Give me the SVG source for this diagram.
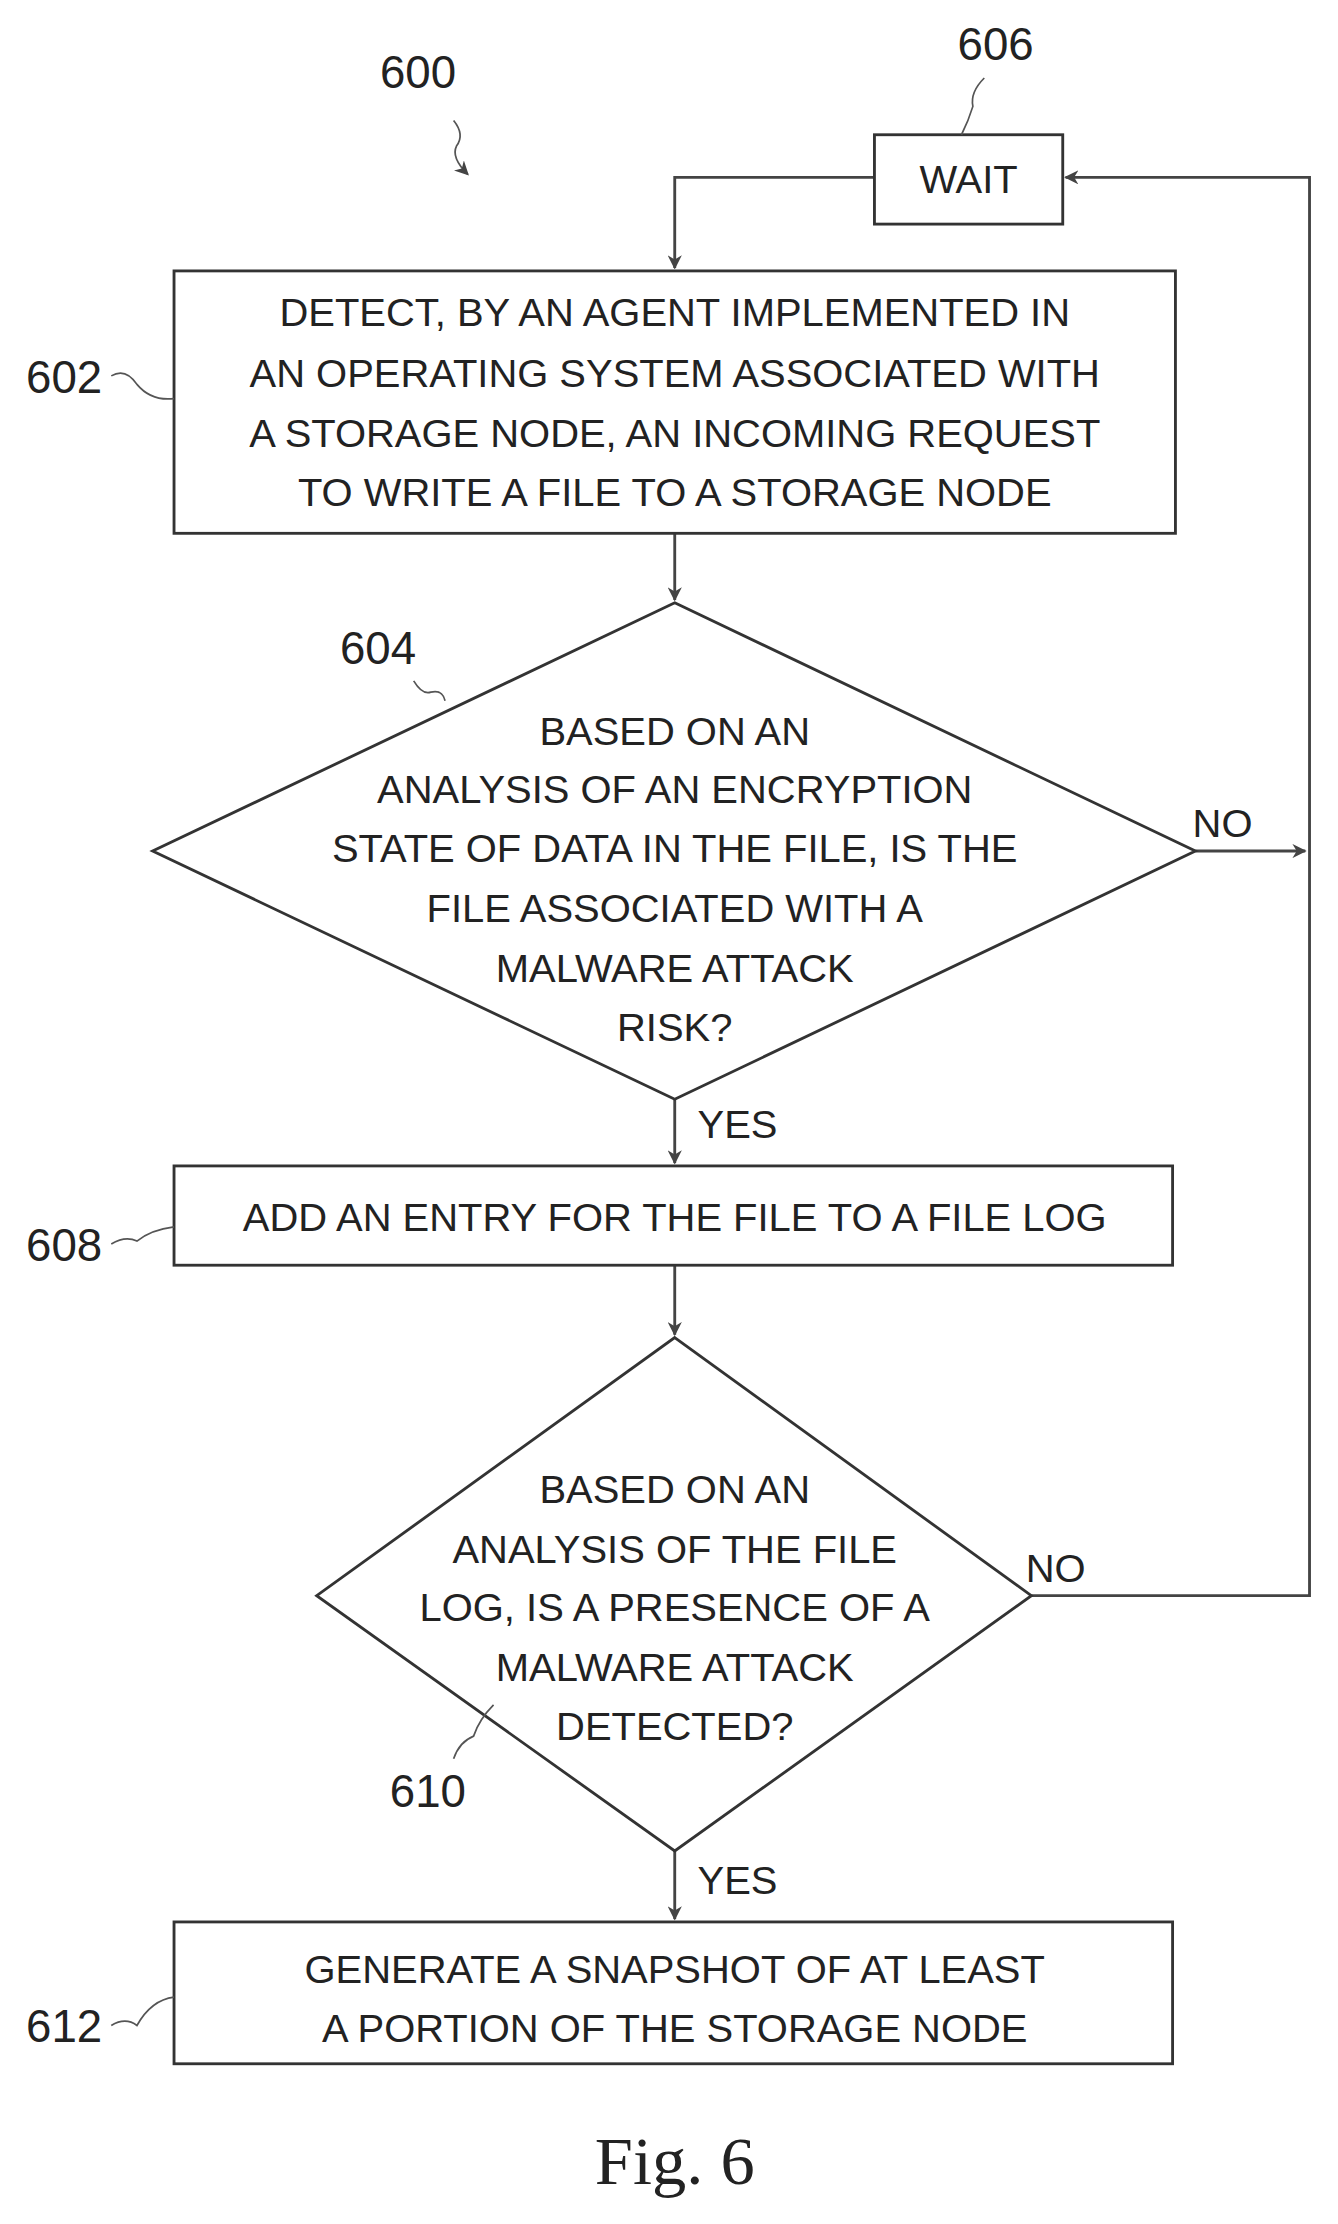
<svg xmlns="http://www.w3.org/2000/svg" width="1338" height="2224" viewBox="0 0 1338 2224">
<style>
.b{fill:#fff;stroke:#333;stroke-width:2}
.t{font-family:"Liberation Sans",Arial,sans-serif;font-size:28px;fill:#222;text-anchor:middle}
.n{font-family:"Liberation Sans",Arial,sans-serif;font-size:32px;fill:#222;text-anchor:middle}
.c{fill:none;stroke:#444;stroke-width:2}
.l{fill:none;stroke:#555;stroke-width:1.2}
</style>
<defs><marker id="a" markerWidth="10" markerHeight="10" refX="9" refY="5" orient="auto" markerUnits="userSpaceOnUse"><path d="M0,0 L10,5 L0,10 L3,5 Z" fill="#444"/></marker></defs>
<rect width="1338" height="2224" fill="#fff"/>
<g transform="scale(1.4265 1.4184)">
<g id="connectors">
<path class="c" d="M613,125 H473 V189" marker-end="url(#a)"/>
<path class="c" d="M473,376 V423" marker-end="url(#a)"/>
<path class="c" d="M838,600 H915" marker-end="url(#a)"/>
<path class="c" d="M723,1125 H918 V125 H747" marker-end="url(#a)"/>
<path class="c" d="M473,775 V820" marker-end="url(#a)"/>
<path class="c" d="M473,892 V941" marker-end="url(#a)"/>
<path class="c" d="M473,1305 V1353" marker-end="url(#a)"/>
<text class="t" x="857" y="590">NO</text>
<text class="t" x="740" y="1115">NO</text>
<text class="t" x="517" y="802">YES</text>
<text class="t" x="517" y="1335">YES</text>
</g>
<g id="n600"><text class="n" x="293" y="62">600</text><path class="l" d="M318,85 q8,10 2,18 q-4,8 8,20" marker-end="url(#a)"/></g>
<g id="n606"><rect class="b" x="613" y="95" width="132" height="63"/><text class="t" x="679" y="136">WAIT</text><text class="n" x="698" y="42">606</text><path class="l" d="M690,55 q-10,10 -8,20 q-3,10 -8,20"/></g>
<g id="n602"><rect class="b" x="122" y="191" width="702" height="185"/>
<text class="t" x="473" y="230">DETECT, BY AN AGENT IMPLEMENTED IN</text>
<text class="t" x="473" y="273">AN OPERATING SYSTEM ASSOCIATED WITH</text>
<text class="t" x="473" y="315">A STORAGE NODE, AN INCOMING REQUEST</text>
<text class="t" x="473" y="357">TO WRITE A FILE TO A STORAGE NODE</text>
<text class="n" x="45" y="277">602</text><path class="l" d="M78,265 q10,-6 18,6 q10,12 26,10"/></g>
<g id="n604"><polygon class="b" points="473,425 838,600 473,775 107,600"/>
<text class="t" x="473" y="525">BASED ON AN</text>
<text class="t" x="473" y="566">ANALYSIS OF AN ENCRYPTION</text>
<text class="t" x="473" y="608">STATE OF DATA IN THE FILE, IS THE</text>
<text class="t" x="473" y="650">FILE ASSOCIATED WITH A</text>
<text class="t" x="473" y="692">MALWARE ATTACK</text>
<text class="t" x="473" y="734">RISK?</text>
<text class="n" x="265" y="468">604</text><path class="l" d="M290,480 q6,10 12,8 q8,-2 10,6"/></g>
<g id="n608"><rect class="b" x="122" y="822" width="700" height="70"/><text class="t" x="473" y="868">ADD AN ENTRY FOR THE FILE TO A FILE LOG</text>
<text class="n" x="45" y="889">608</text><path class="l" d="M78,877 q10,-6 18,-2 q10,-8 26,-10"/></g>
<g id="n610"><polygon class="b" points="473,943 723,1125 473,1305 222,1125"/>
<text class="t" x="473" y="1060">BASED ON AN</text>
<text class="t" x="473" y="1102">ANALYSIS OF THE FILE</text>
<text class="t" x="473" y="1143">LOG, IS A PRESENCE OF A</text>
<text class="t" x="473" y="1185">MALWARE ATTACK</text>
<text class="t" x="473" y="1227">DETECTED?</text>
<text class="n" x="300" y="1274">610</text><path class="l" d="M318,1240 q4,-12 14,-16 q4,-12 14,-22"/></g>
<g id="n612"><rect class="b" x="122" y="1355" width="700" height="100"/>
<text class="t" x="473" y="1398">GENERATE A SNAPSHOT OF AT LEAST</text>
<text class="t" x="473" y="1440">A PORTION OF THE STORAGE NODE</text>
<text class="n" x="45" y="1440">612</text><path class="l" d="M78,1428 q10,-6 18,0 q10,-18 26,-20"/></g>
<text x="473" y="1540" style="font-family:'Liberation Serif',serif;font-size:48px;text-anchor:middle;fill:#222">Fig. 6</text>
</g>
</svg>
